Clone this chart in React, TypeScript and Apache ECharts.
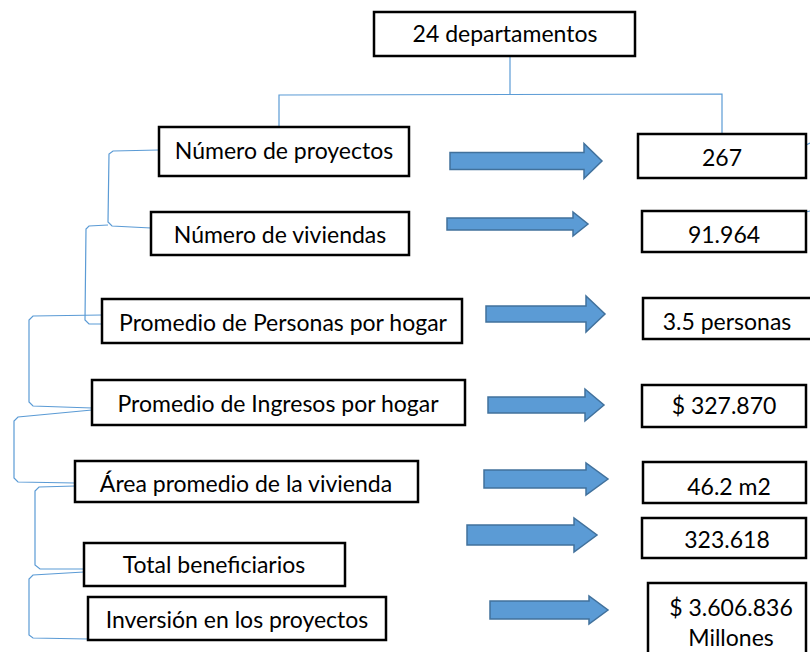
import React, { useEffect, useRef } from "react";
import * as echarts from "echarts";

// ---- content (texts of the diagram) ----
const rootLabel = "24 departamentos";
const indicatorLabels = [
  "Número de proyectos",
  "Número de viviendas",
  "Promedio de Personas por hogar",
  "Promedio de Ingresos por hogar",
  "Área promedio de la vivienda",
  "Total beneficiarios",
  "Inversión en los proyectos",
];
const indicatorValues = [
  "267",
  "91.964",
  "3.5 personas",
  "$ 327.870",
  "46.2 m2",
  "323.618",
  "$ 3.606.836\nMillones",
];

// ---- layout (positions / sizes) ----
// left boxes: [x, y, w, h]
const leftBoxes = [
  [159, 127, 250, 49],
  [151, 212, 258, 43],
  [102, 299, 360, 44],
  [92, 380, 373, 45],
  [75, 461, 343, 41],
  [84, 543, 261, 43],
  [88, 597, 298, 43],
];
// left text centers
const leftTextPos = [
  [284, 150],
  [280, 234],
  [283, 322],
  [278, 403],
  [246, 483],
  [214, 564],
  [237, 619],
];
// right boxes: [x, y, w, h]
const rightBoxes = [
  [638, 134, 168, 44],
  [642, 211, 164, 41],
  [643, 298, 180, 41],
  [642, 385, 164, 42],
  [643, 462, 163, 41],
  [642, 518, 164, 40],
  [648, 583, 158, 90],
];
// right text centers
const rightTextPos = [
  [722, 157],
  [724, 234],
  [727, 321],
  [724, 405],
  [729, 486],
  [727, 539],
  [731, 622],
];
// arrows: [x0, xHead, x1, cy, bodyHalf, headHalf]
const arrows = [
  [450, 584, 602, 161, 8.5, 17.5],
  [447, 573, 588, 224, 6, 12],
  [486, 586, 605, 314, 8, 18],
  [488, 585, 604, 405, 8, 16],
  [484, 586, 608, 479, 9, 16],
  [467, 574, 597, 535, 10, 17],
  [490, 589, 608, 610, 9, 14],
];
// connector polylines
const connectors: number[][][] = [
  [[510, 57], [510, 95]],
  [[279, 127], [279, 95], [722, 94], [722, 134]],
  [[159, 150], [113, 151], [109, 154], [108, 222], [112, 226], [151, 228]],
  [[108, 225], [89, 226], [86, 229], [85, 320], [89, 324], [102, 324]],
  [[102, 315], [33, 316], [29, 320], [29, 402], [33, 406], [92, 408]],
  [[92, 410], [18, 417], [14, 421], [14, 478], [18, 482], [75, 483]],
  [[75, 486], [39, 487], [35, 491], [35, 565], [40, 569], [84, 569]],
  [[84, 572], [33, 575], [29, 579], [29, 635], [33, 638], [88, 639]],
  [[806, 145], [810, 143]],
  [[806, 212], [810, 211]],
];

const FONT = "Lato";
const FONT_SIZE = 23;
const LINE_BLUE = "#5B9BD5";
const ARROW_FILL = "#5B9BD5";
const ARROW_STROKE = "#41719C";

export default function App() {
  const ref = useRef<HTMLDivElement>(null);
  useEffect(() => {
    document.body.style.margin = "0";
    const chart = echarts.init(ref.current!, undefined, { renderer: "svg" });
    const elements: any[] = [];

    connectors.forEach((pts) => {
      elements.push({
        type: "polyline",
        shape: { points: pts },
        style: { stroke: LINE_BLUE, lineWidth: 1.2, fill: "none" },
      });
    });

    arrows.forEach(([x0, xh, x1, cy, bh, hh]) => {
      elements.push({
        type: "polygon",
        shape: {
          points: [
            [x0, cy - bh],
            [xh, cy - bh],
            [xh, cy - hh],
            [x1, cy],
            [xh, cy + hh],
            [xh, cy + bh],
            [x0, cy + bh],
          ],
        },
        style: { fill: ARROW_FILL, stroke: ARROW_STROKE, lineWidth: 1.5 },
      });
    });

    const box = (x: number, y: number, w: number, h: number) => ({
      type: "rect",
      shape: { x, y, width: w, height: h },
      style: { fill: "#ffffff", stroke: "#000000", lineWidth: 2.5 },
    });
    const txt = (t: string, x: number, y: number, lh = 30) => ({
      type: "text",
      x,
      y,
      style: {
        text: t,
        fill: "#000000",
        font: `${FONT_SIZE}px ${FONT}`,
        align: "center",
        verticalAlign: "middle",
        lineHeight: lh,
      },
    });

    elements.push(box(374, 12, 261, 44));
    elements.push(txt(rootLabel, 505, 33));

    indicatorLabels.forEach((lab, i) => {
      const [x, y, w, h] = leftBoxes[i];
      elements.push(box(x, y, w, h));
      const [tx, ty] = leftTextPos[i];
      elements.push(txt(lab, tx, ty));
    });
    indicatorValues.forEach((v, i) => {
      const [x, y, w, h] = rightBoxes[i];
      elements.push(box(x, y, w, h));
      const [tx, ty] = rightTextPos[i];
      elements.push(txt(v, tx, ty));
    });

    chart.setOption({
      animation: false,
      backgroundColor: "#ffffff",
      graphic: { elements },
    });
    return () => chart.dispose();
  }, []);
  return <div ref={ref} style={{ width: 810, height: 652 }} />;
}
